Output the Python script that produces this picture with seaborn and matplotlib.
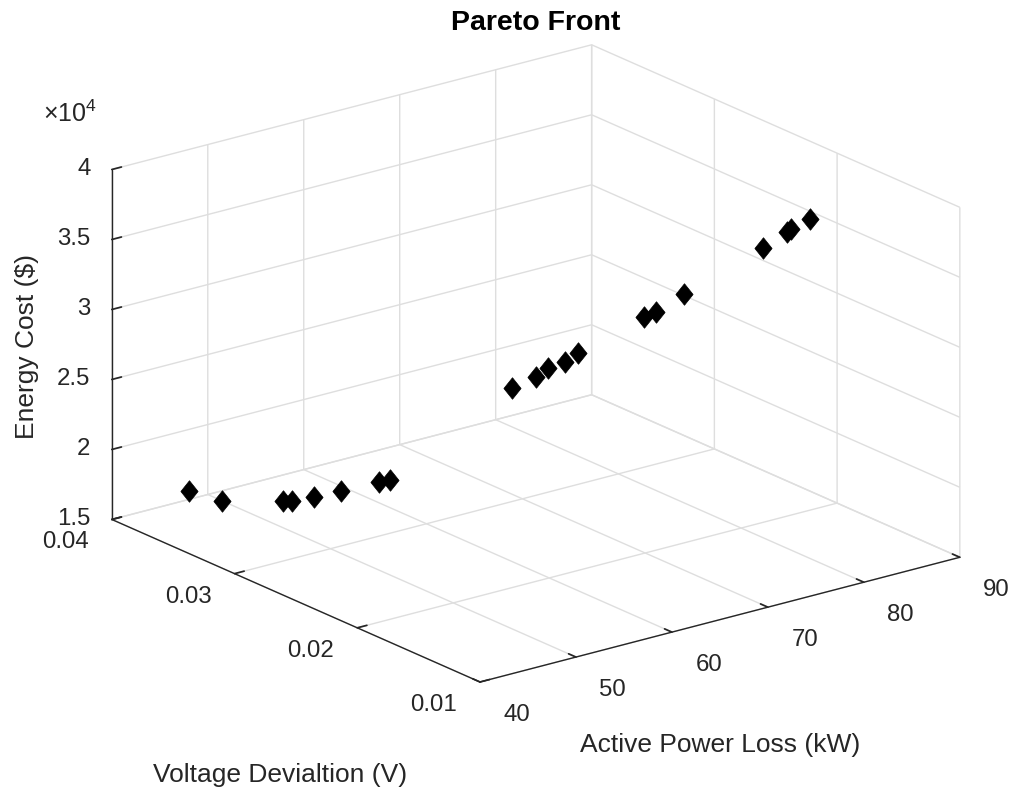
import numpy as np
import pandas as pd
import matplotlib
matplotlib.use("Agg")
import matplotlib.pyplot as plt
import seaborn as sns
from matplotlib.path import Path
from matplotlib.ticker import FuncFormatter, FixedLocator
from mpl_toolkits.mplot3d import proj3d

# ---------------- data ----------------
active_power_loss = [46.1, 47.9, 51.4, 52.0, 53.3, 55.1, 57.9, 58.8,
                     66.0, 68.2, 69.2, 70.7, 72.0,
                     73.8, 74.3, 76.7, 81.5, 83.4, 83.8, 84.6]
voltage_deviation = [0.0385, 0.0372, 0.0350, 0.0347, 0.0339, 0.0331, 0.0322, 0.0320,
                     0.0277, 0.0275, 0.0273, 0.0271, 0.0270,
                     0.0231, 0.0225, 0.0221, 0.0194, 0.0189, 0.0189, 0.0180]
energy_cost = [16500, 16000, 16200, 16200, 16600, 17000, 17500, 17600,
               24500, 25000, 25500, 25800, 26200,
               30000, 30500, 31500, 35000, 36000, 36100, 37000]

x_ticks = [40, 50, 60, 70, 80, 90]
y_ticks = [0.01, 0.02, 0.03, 0.04]
z_ticks = [15000, 20000, 25000, 30000, 35000, 40000]

df = pd.DataFrame({"loss": active_power_loss, "vdev": voltage_deviation, "cost": energy_cost})

# ---------------- style ----------------
sns.set_theme(style="white")
AX_COL = "#262626"
plt.rcParams.update({
    "font.family": ["Liberation Sans", "DejaVu Sans"],
    "axes.edgecolor": AX_COL,
    "axes.linewidth": 1.0,
    "xtick.color": AX_COL,
    "ytick.color": AX_COL,
    "xtick.major.pad": 3.5,
    "ytick.major.pad": 3.5,
    "grid.color": "#dedede",
    "grid.linewidth": 1.0,
    "mathtext.fontset": "custom",
    "mathtext.rm": "Liberation Sans",
    "mathtext.it": "Liberation Sans",
    "mathtext.bf": "Liberation Sans:bold",
})

W_PX, H_PX = 1022, 796
fig = plt.figure(figsize=(W_PX / 100, H_PX / 100), dpi=100)
fig.patch.set_facecolor("white")
ax = fig.add_axes([0.1, 0.1, 0.8, 0.8], projection="3d")
ax.set_proj_type("ortho")
ax.view_init(elev=19.8, azim=-127.5)
ax.set_box_aspect((1, 1, 0.615))
ax.patch.set_alpha(0)

# diamond marker (slightly taller than wide, like MATLAB)
diamond = Path([(0, 1), (0.8, 0), (0, -1), (-0.8, 0), (0, 1)],
               [Path.MOVETO, Path.LINETO, Path.LINETO, Path.LINETO, Path.CLOSEPOLY])
ax.scatter(df["loss"], df["vdev"], df["cost"], marker=diamond, s=240,
           c="black", edgecolors="black", linewidths=0.5, depthshade=False)

ax.set_xlim(40, 90)
ax.set_ylim(0.01, 0.04)
ax.set_zlim(15000, 40000)
ax.xaxis.set_major_locator(FixedLocator(x_ticks))
ax.yaxis.set_major_locator(FixedLocator(y_ticks))
ax.zaxis.set_major_locator(FixedLocator(z_ticks))
ax.xaxis.set_major_formatter(FuncFormatter(lambda v, p: f"{v:g}"))
ax.yaxis.set_major_formatter(FuncFormatter(lambda v, p: f"{v:g}"))
ax.zaxis.set_major_formatter(FuncFormatter(lambda v, p: f"{v / 1e4:g}"))

for axis in (ax.xaxis, ax.yaxis, ax.zaxis):
    axis.set_pane_color((1, 1, 1, 0))
    axis.pane.set_edgecolor((1, 1, 1, 0))
    axis.line.set_color(AX_COL)
    axis.line.set_linewidth(1.0)
    axis._axinfo["grid"].update(color="#dedede", linewidth=1.0)
    axis._axinfo["tick"]["inward_factor"] = 0.0
    axis._axinfo["tick"]["outward_factor"] = 0.25
    axis.set_tick_params(labelsize=17.3, colors=AX_COL)
ax.xaxis.set_tick_params(pad=13.6)
ax.yaxis.set_tick_params(pad=8.4)
ax.zaxis.set_tick_params(pad=0.5)
ax.set_xlabel("")
ax.set_ylabel("")
ax.set_zlabel("")
ax.grid(True)

# ---------------- fit the projected box to the reference layout ----------------
def fit_box():
    fig.canvas.draw()
    pos = ax.get_position()
    L, B, S = pos.x0 * W_PX, pos.y0 * H_PX, pos.width * W_PX
    M = ax.get_proj()

    def uv(x, y, z):
        xs, ys, _ = proj3d.proj_transform(x, y, z, M)
        px, py = ax.transData.transform((xs, ys))
        return (px - L) / S, (py - B) / S

    u_f, v_f = uv(40, 0.01, 15000)
    u_r, v_r = uv(90, 0.01, 15000)
    u_l, v_l = uv(40, 0.04, 40000)
    S_new = (960 - 112) / (u_r - u_l)
    L_new = 480 - S_new * u_f
    B_new = (H_PX - 682) - S_new * v_f
    ax.set_position([L_new / W_PX, B_new / H_PX, S_new / W_PX, S_new / H_PX])

fit_box()
for lbl in ax.xaxis.get_ticklabels():
    lbl.set_horizontalalignment("left")
    lbl.set_verticalalignment("center")
for lbl in ax.yaxis.get_ticklabels():
    lbl.set_horizontalalignment("right")
    lbl.set_verticalalignment("center")
for lbl in ax.zaxis.get_ticklabels():
    lbl.set_horizontalalignment("right")
    lbl.set_verticalalignment("center")
fit_box()

# ---------------- texts ----------------
fig.text(536 / W_PX, 1 - 23 / H_PX, "Pareto Front", ha="center", va="center",
         fontsize=20.5, fontweight="bold", color="black")
fig.text(27 / W_PX, 1 - 346 / H_PX, "Energy Cost ($)", rotation=90,
         ha="center", va="center", fontsize=19, color=AX_COL)
fig.text(720 / W_PX, 1 - 745 / H_PX, "Active Power Loss (kW)",
         ha="center", va="center", fontsize=19, color=AX_COL)
fig.text(280 / W_PX, 1 - 775 / H_PX, "Voltage Devialtion (V)",
         ha="center", va="center", fontsize=19, color=AX_COL)
fig.text(70 / W_PX, 1 - 114 / H_PX, r"$\times 10^{4}$",
         ha="center", va="center", fontsize=18, color=AX_COL)

fig.savefig("out.png", dpi=100, facecolor="white")
